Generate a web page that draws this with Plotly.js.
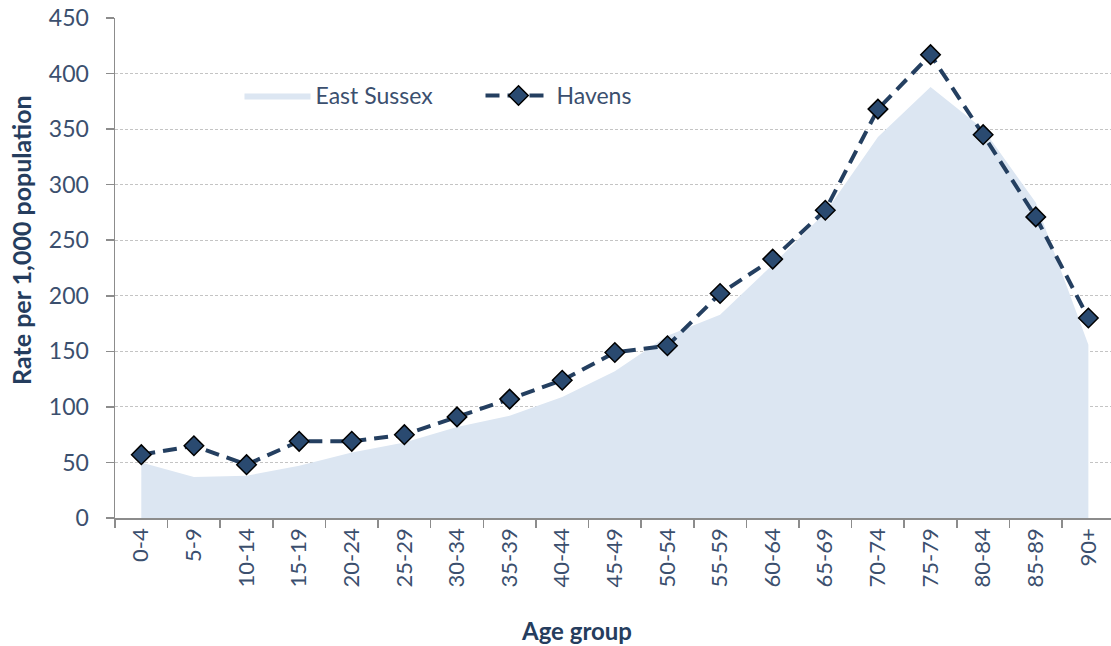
<!DOCTYPE html>
<html>
<head>
<meta charset="utf-8">
<script src="https://cdn.plot.ly/plotly-3.0.1.min.js"></script>
<style>html,body{margin:0;padding:0;background:#fff;overflow:hidden;}#chart{width:1111px;height:646px;}</style>
</head>
<body>
<div id="chart"></div>
<script>
const ageGroups = ["0-4","5-9","10-14","15-19","20-24","25-29","30-34","35-39","40-44","45-49","50-54","55-59","60-64","65-69","70-74","75-79","80-84","85-89","90+"];
const eastSussex = [50,37,38,47,59,68,82,92,109,132,164,183,228,275,343,388,350,284,156];
const havens = [57,65,48,69,69,75,91,107,124,149,155,202,233,277,368,417,345,271,180];
const xTitle = "Age group";
const yTitle = "Rate per 1,000 population";

const tickColor = "#3b4f6e";
const titleColor = "#253d5e";
const fontFam = "Lato, 'Open Sans', sans-serif";

const traces = [
  {
    x: ageGroups, y: eastSussex, name: "East Sussex", type: "scatter", mode: "lines",
    fill: "tozeroy", fillcolor: "#dce6f2", line: {width: 0, color: "#dce6f2"},
    hoverinfo: "x+y"
  },
  {
    x: ageGroups, y: havens, name: "Havens", type: "scatter", mode: "lines+markers",
    line: {color: "#243f60", width: 4, dash: "14px,8px"},
    marker: {symbol: "diamond", size: 15, color: "#2a4a70", line: {color: "#000000", width: 1.5}}
  }
];

const layout = {
  width: 1111, height: 646,
  margin: {l: 115, r: 0, t: 18, b: 128},
  paper_bgcolor: "#ffffff", plot_bgcolor: "#ffffff",
  font: {family: fontFam, color: tickColor, size: 22},
  showlegend: true,
  legend: {
    orientation: "h", x: 0.125, y: 0.845, xanchor: "left", yanchor: "middle",
    bgcolor: "rgba(0,0,0,0)", font: {size: 23, color: tickColor, family: fontFam},
    itemwidth: 66, entrywidth: 160, tracegroupgap: 0
  },
  xaxis: {
    type: "category", range: [-0.5, 18.43],
    showline: true, linecolor: "#8c8c8c", linewidth: 1.5,
    ticks: "outside", tickson: "boundaries", ticklen: 8, tickcolor: "#8c8c8c", tickwidth: 1.5,
    tickangle: -90, tickfont: {size: 22, color: tickColor},
    showgrid: false, zeroline: false
  },
  yaxis: {
    range: [0, 450], dtick: 50, tick0: 0,
    showline: true, linecolor: "#8c8c8c", linewidth: 1.5,
    ticks: "outside", ticklen: 8, tickcolor: "#8c8c8c", tickwidth: 1.5,
    tickfont: {size: 23, color: tickColor}, ticklabelstandoff: 12,
    showgrid: true, gridcolor: "#c4c4c4", gridwidth: 1, griddash: "3px,2px",
    zeroline: false
  },
  annotations: [
    {
      text: "<b>" + xTitle + "</b>", xref: "paper", yref: "paper",
      x: 0.463, y: -0.224, xanchor: "center", yanchor: "middle", showarrow: false,
      font: {size: 24, color: titleColor, family: fontFam}
    },
    {
      text: "<b>" + yTitle + "</b>", xref: "paper", yref: "paper", textangle: -90,
      x: -0.0945, y: 0.556, xanchor: "center", yanchor: "middle", showarrow: false,
      font: {size: 25, color: titleColor, family: fontFam}
    }
  ]
};

Plotly.newPlot("chart", traces, layout, {displayModeBar: false, staticPlot: true});
</script>
</body>
</html>
